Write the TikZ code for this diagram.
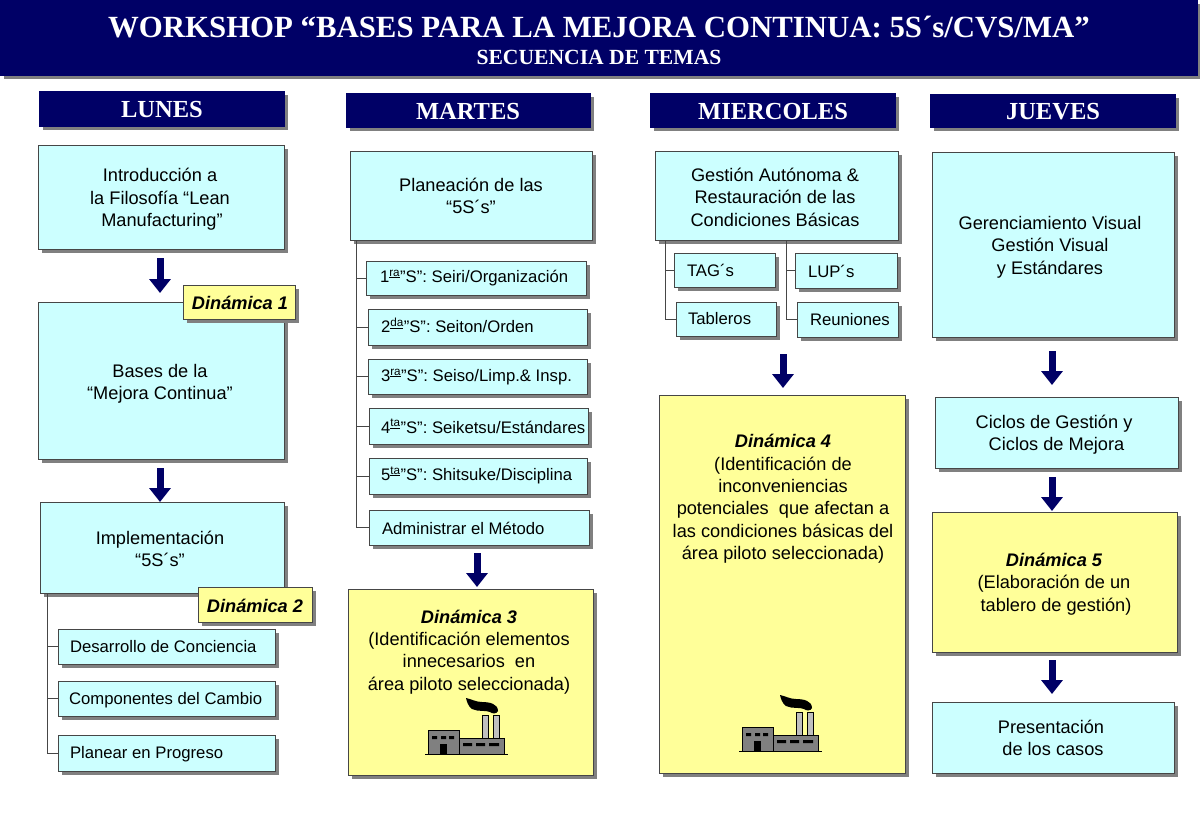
\documentclass[tikz,border=0pt]{standalone}
\usepackage{fontspec}
\setmainfont{Liberation Sans}
\newfontfamily\serifb{Liberation Serif}[BoldFont={Liberation Serif Bold}]
\usetikzlibrary{shadows,arrows.meta}
\definecolor{navy}{RGB}{0,0,102}
\definecolor{cyanbox}{RGB}{204,255,255}
\definecolor{yellowbox}{RGB}{255,255,153}
\definecolor{edgegray}{RGB}{70,70,70}
\definecolor{shadowgray}{RGB}{128,128,128}
\tikzset{x=1pt,y=-1pt,
  boxbase/.style={anchor=center,inner sep=0pt,outer sep=0pt,
    drop shadow={shadow xshift=3.5pt,shadow yshift=-3.5pt,fill=shadowgray,opacity=1}},
  cy/.style={boxbase,draw=edgegray,line width=0.9pt,fill=cyanbox},
  ye/.style={boxbase,draw=edgegray,line width=0.9pt,fill=yellowbox},
  nv/.style={boxbase,draw=navy,line width=0.6pt,fill=navy},
  lbl/.style={inner sep=0pt,outer sep=0pt,align=center,font=\fontsize{18.2}{22.4}\selectfont,text=black},
  lft/.style={lbl,anchor=west,font=\fontsize{16.7}{22}\selectfont},
  dayt/.style={inner sep=0pt,align=center,text=white,font=\serifb\bfseries\fontsize{24.5}{26}\selectfont},
  din/.style={lbl,font=\fontsize{18.2}{22.4}\selectfont},
  blockarrow/.style={draw=navy,line width=7pt,-{Triangle[length=14pt,width=21pt,fill=navy]}},
  tree/.style={draw=edgegray,line width=0.9pt},
}
\newcommand{\bx}[6]{%
  \pgfmathsetlengthmacro{\bw}{#5-#3}\pgfmathsetlengthmacro{\bh}{#6-#4}%
  \pgfmathsetmacro{\bcx}{(#3+#5)/2}\pgfmathsetmacro{\bcy}{(#4+#6)/2}%
  \node[#2,minimum width=\bw,minimum height=\bh] (#1) at (\bcx,\bcy) {};}
\newcommand{\sth}[1]{\textsuperscript{\underline{\smash{#1}}}}
\newcommand{\factory}[3]{%
 \begin{scope}[shift={(#1,#2)}]
  \fill[black] (466,698) .. controls (471,699) and (476,702) .. (482,702)
    .. controls (490,702) and (498,704) .. (498,711) .. controls (497,714) and (492,714) .. (490,712)
    .. controls (486,710) and (478,712) .. (472,709) .. controls (468,706) and (467,702) .. (466,698) -- cycle;
  \draw[#3,fill=lightgray,line width=0.8pt] (482,715) rectangle (488,738);
  \draw[#3,fill=lightgray,line width=0.8pt] (493,715) rectangle (499,738);
  \draw[#3,fill=gray,line width=0.8pt] (459,738) rectangle (504,754);
  \draw[#3,fill=gray,line width=0.8pt] (428,730) rectangle (459,754);
  \fill[black] (432,736) rectangle (437,739) (441,736) rectangle (446,739) (449,736) rectangle (454,739);
  \fill[black] (440,744) rectangle (447,754);
  \fill[black] (463,743) rectangle (472,746) (476,743) rectangle (485,746) (489,743) rectangle (499,746);
  \draw[black,line width=1.4pt] (425,754.5) -- (508,754.5);
 \end{scope}}
\begin{document}
\begin{tikzpicture}
\useasboundingbox (0,0) rectangle (1200,831);
% header
\bx{head}{nv}{0}{0}{1197}{75}
\node[dayt,font=\serifb\bfseries\fontsize{30.8}{32}\selectfont] (title) at (599,27) {WORKSHOP “BASES PARA LA MEJORA CONTINUA: 5S´s/CVS/MA”};
\node[dayt,font=\serifb\bfseries\fontsize{21.6}{24}\selectfont] (subtitle) at (599,57) {SECUENCIA DE TEMAS};
% days
\bx{lun}{nv}{39}{91}{284}{126}\node[dayt] (lunt) at (162,110) {LUNES};
\bx{mar}{nv}{346}{93}{590}{127}\node[dayt] (mart) at (468,112) {MARTES};
\bx{mie}{nv}{650}{93}{895}{127}\node[dayt] (miet) at (773,112) {MIERCOLES};
\bx{jue}{nv}{930}{94}{1175}{127}\node[dayt] (juet) at (1053,112) {JUEVES};
% Lunes
\bx{intro}{cy}{38}{145}{284}{249}
\node[lbl] (introt) at (160,199.5) {Introducción a\\la Filosofía “Lean\\\hspace*{4pt}Manufacturing”};
\bx{bases}{cy}{38}{302}{284}{459}
\node[lbl] (basest) at (160,384) {Bases de la\\“Mejora Continua”};
\bx{din1}{ye}{183}{285}{295}{319}
\node[din] (din1t) at (240,303) {\bfseries\itshape Dinámica 1};
\bx{impl}{cy}{40}{502}{284}{593}
\node[lbl] (implt) at (160,549) {Implementación\\“5S´s”};
\bx{desa}{cy}{58}{629}{275}{664}
\node[lft] (desat) at (70,647) {Desarrollo de Conciencia};
\bx{comp}{cy}{58}{681}{275}{716}
\node[lft] (compt) at (69,700) {Componentes del Cambio};
\bx{plan}{cy}{58}{735}{275}{771}
\node[lft] (plant) at (70,754) {Planear en Progreso};
\coordinate (t1) at (47,593);
\draw[tree] (t1) |- (desa.west);
\draw[tree] (t1) |- (comp.west);
\draw[tree] (t1) |- (plan.west);
\bx{din2}{ye}{198}{587}{312}{622}
\node[din] (din2t) at (255,606) {\bfseries\itshape Dinámica 2};
\coordinate (a1) at (160,0);
\draw[blockarrow,shorten <=9pt,shorten >=9pt] (a1 |- intro.south) -- (a1 |- bases.north);
\draw[blockarrow,shorten <=9pt,shorten >=0pt] (a1 |- bases.south) -- (a1 |- impl.north);
% Martes
\bx{plane}{cy}{350}{151}{592}{240}
\node[lbl] (planet) at (471,196) {Planeación de las\\“5S´s”};
\coordinate (t2) at (356,240);
\bx{s1}{cy}{366}{261}{586}{295}
\node[lft] (s1t) at (380,278) {1\sth{ra}”S”: Seiri/Organización};
\bx{s2}{cy}{368}{309}{587}{345}
\node[lft] (s2t) at (381,327) {2\sth{da}”S”: Seiton/Orden};
\bx{s3}{cy}{368}{359}{587}{394}
\node[lft] (s3t) at (381,377) {3\sth{ra}”S”: Seiso/Limp.\& Insp.};
\bx{s4}{cy}{369}{408}{588}{444}
\node[lft] (s4t) at (381,427) {4\sth{ta}”S”: Seiketsu/Estándares};
\bx{s5}{cy}{369}{458}{587}{494}
\node[lft] (s5t) at (381,476) {5\sth{ta}”S”: Shitsuke/Disciplina};
\bx{s6}{cy}{369}{510}{589}{545}
\node[lft] (s6t) at (382,528) {Administrar el Método};
\foreach \n in {s1,s2,s3,s4,s5,s6} {\draw[tree] (t2) |- (\n.west);}
\bx{din3}{ye}{348}{589}{593}{775}
\node[din] (din3t) at (469,652) {{\bfseries\itshape Dinámica 3}\\(Identificación elementos\\innecesarios\ \ en\\área piloto seleccionada)};
\coordinate (a2) at (477,0);
\draw[blockarrow,shorten <=8pt,shorten >=2pt] (a2 |- s6.south) -- (a2 |- din3.north);
\factory{0}{0}{black}
% Miercoles
\bx{gest}{cy}{655}{151}{898}{240}
\node[lbl] (gestt) at (775,197) {Gestión Autónoma \&\\Restauración de las\\Condiciones Básicas};
\coordinate (t3) at (665,240);
\coordinate (t4) at (786,240);
\bx{tag}{cy}{674}{253}{775}{287}
\node[lft] (tagt) at (687,270) {TAG´s};
\bx{tab}{cy}{676}{302}{776}{336}
\node[lft] (tabt) at (688,319) {Tableros};
\bx{lup}{cy}{795}{253}{897}{288}
\node[lft] (lupt) at (808,271) {LUP´s};
\bx{reu}{cy}{797}{302}{898}{337}
\node[lft] (reut) at (810,320) {Reuniones};
\draw[tree] (t3) |- (tag.west);
\draw[tree] (t3) |- (tab.west);
\draw[tree] (t4) |- (lup.west);
\draw[tree] (t4) |- (reu.west);
\bx{din4}{ye}{659}{395}{905}{773}
\node[din] (din4t) at (783,499) {{\bfseries\itshape Dinámica 4}\\(Identificación de\\inconveniencias\\potenciales\ \ que afectan a\\las condiciones básicas del\\área piloto seleccionada)};
\coordinate (a3) at (783,0);
\draw[blockarrow,shorten <=18pt,shorten >=7pt] (a3 |- tab.south) -- (a3 |- din4.north);
\factory{314}{-3}{black}
% Jueves
\bx{ger}{cy}{932}{152}{1174}{337}
\node[lbl] (gert) at (1050,247) {Gerenciamiento Visual\\Gestión Visual\hspace*{12pt}\\y Estándares\hspace*{0pt}};
\bx{cic}{cy}{935}{397}{1178}{468}
\node[lbl] (cict) at (1054,434.5) {Ciclos de Gestión y\\\hspace*{5pt}Ciclos de Mejora};
\bx{din5}{ye}{932}{512}{1177}{652}
\node[din] (din5t) at (1054,584) {{\bfseries\itshape Dinámica 5}\\(Elaboración de un\\\hspace*{4pt}tablero de gestión)};
\bx{pres}{cy}{932}{702}{1174}{773}
\node[lbl] (prest) at (1051,738) {Presentación\\\hspace*{4pt}de los casos};
\coordinate (a4) at (1052,0);
\draw[blockarrow,shorten <=14pt,shorten >=12pt] (a4 |- ger.south) -- (a4 |- cic.north);
\draw[blockarrow,shorten <=9pt,shorten >=1pt] (a4 |- cic.south) -- (a4 |- din5.north);
\draw[blockarrow,shorten <=8pt,shorten >=8pt] (a4 |- din5.south) -- (a4 |- pres.north);
\end{tikzpicture}
\end{document}
